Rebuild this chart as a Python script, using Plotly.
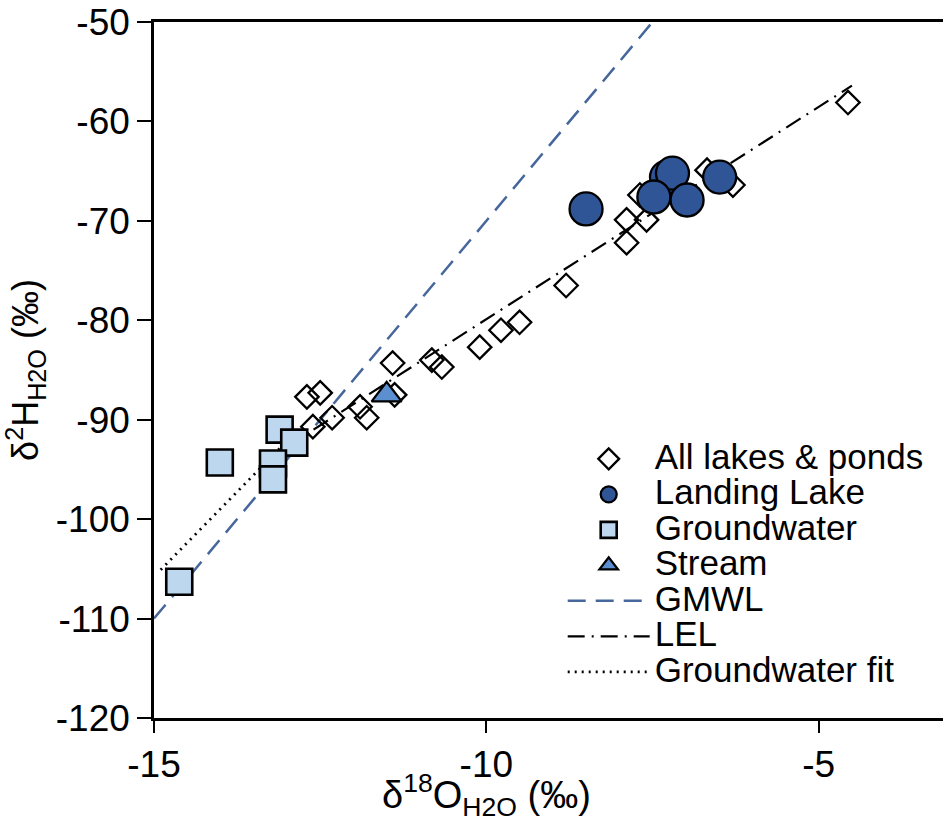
import plotly.graph_objects as go

# ---- data ----
lakes_x = [-4.56, -6.29, -6.68, -7.69, -7.89, -7.59, -7.89, -8.80, -9.50, -9.78, -10.10,
           -10.82, -10.67, -11.41, -11.38, -11.80, -11.90, -12.32, -12.50, -12.70, -12.61]
lakes_y = [-58.1, -66.4, -64.9, -67.4, -69.9, -69.9, -72.2, -76.5, -80.2, -81.0, -82.7,
           -84.0, -84.7, -84.3, -87.5, -89.8, -88.7, -89.8, -87.3, -87.7, -90.7]

landing_x = [-8.50, -7.29, -7.20, -7.48, -6.98, -6.49]
landing_y = [-68.8, -65.6, -65.2, -67.6, -67.9, -65.6]

gw_x = [-14.62, -14.01, -13.11, -12.89, -13.21, -13.21]
gw_y = [-106.3, -94.3, -91.0, -92.3, -94.4, -96.0]

stream_x = [-11.50]
stream_y = [-87.5]

gmwl_x = [-15.0, -7.5]
gmwl_y = [-110.0, -50.0]

lel_x = [-12.6, -4.5]
lel_y = [-91.0, -56.4]

gwfit_x = [-14.9, -12.95]
gwfit_y = [-105.1, -91.8]

x_ticks = [-15, -10, -5]
x_ticktext = ["-15", "-10", "-5"]
y_ticks = [-50, -60, -70, -80, -90, -100, -110, -120]
y_ticktext = ["-50", "-60", "-70", "-80", "-90", "-100", "-110", "-120"]

FONT = "Liberation Sans, Arial, sans-serif"
LEG_TXT = 35  # rendered size of legend labels


def lg(name):
    return f"<span style='font-size:{LEG_TXT}px'>{name}</span>"


fig = go.Figure()

# lines first (drawn underneath)
fig.add_trace(go.Scatter(x=gmwl_x, y=gmwl_y, mode="lines", name=lg("GMWL"), legendrank=5,
                         line=dict(color="#46679B", width=2.5, dash="18px,10px")))
fig.add_trace(go.Scatter(x=lel_x, y=lel_y, mode="lines", name=lg("LEL"), legendrank=6,
                         line=dict(color="black", width=2.2, dash="17px,7px,2px,7px")))
fig.add_trace(go.Scatter(x=gwfit_x, y=gwfit_y, mode="lines", name=lg("Groundwater fit"), legendrank=7,
                         line=dict(color="black", width=2.8, dash="2px,5px")))

fig.add_trace(go.Scatter(x=lakes_x, y=lakes_y, mode="markers", name=lg("All lakes &amp; ponds"), legendrank=1,
                         marker=dict(symbol="diamond-open", size=18, color="black",
                                     line=dict(color="black", width=2.3))))
fig.add_trace(go.Scatter(x=gw_x, y=gw_y, mode="markers", name=lg("Groundwater"), legendrank=3,
                         marker=dict(symbol="square", size=26, color="#BDD7EE",
                                     line=dict(color="black", width=2.6))))
fig.add_trace(go.Scatter(x=stream_x, y=stream_y, mode="markers", name=lg("Stream"), legendrank=4,
                         marker=dict(symbol="triangle-up", size=26, color="#5B8FD0",
                                     line=dict(color="black", width=2.3))))
fig.add_trace(go.Scatter(x=landing_x, y=landing_y, mode="markers", name=lg("Landing Lake"), legendrank=2,
                         marker=dict(symbol="circle", size=33, color="#2F5597",
                                     line=dict(color="black", width=2.3))))

fig.update_layout(
    width=943, height=824,
    margin=dict(l=154, r=0, t=22, b=106),
    paper_bgcolor="white", plot_bgcolor="white",
    font=dict(family=FONT, color="black", size=30),
    showlegend=True,
    legend=dict(x=0.518, xanchor="left", y=0.405, yanchor="top",
                bgcolor="rgba(0,0,0,0)", font=dict(size=25, family=FONT),
                itemwidth=82, tracegroupgap=0),
    xaxis=dict(range=[-15, -3.13], showgrid=False, zeroline=False,
               showline=True, linecolor="black", linewidth=2.5, mirror=True,
               ticks="outside", ticklen=12, tickwidth=2, tickcolor="black",
               tickmode="array", tickvals=x_ticks, ticktext=x_ticktext,
               tickfont=dict(size=37, family=FONT)),
    yaxis=dict(range=[-120, -50], showgrid=False, zeroline=False,
               showline=True, linecolor="black", linewidth=2.5, mirror=False,
               ticks="outside", ticklen=14, tickwidth=2, tickcolor="black",
               tickmode="array", tickvals=y_ticks, ticktext=y_ticktext,
               tickfont=dict(size=37, family=FONT),
               title=dict(text="δ<sup>2</sup>H<sub>H2O</sub> (‰)", standoff=12,
                          font=dict(size=36, family=FONT))),
    annotations=[dict(text="δ<sup>18</sup>O<sub>H2O</sub> (‰)", xref="x", yref="paper",
                      x=-10, y=-0.111, yanchor="middle", xanchor="center", showarrow=False,
                      font=dict(size=38, family=FONT))],
)

fig.write_html("out.html")
